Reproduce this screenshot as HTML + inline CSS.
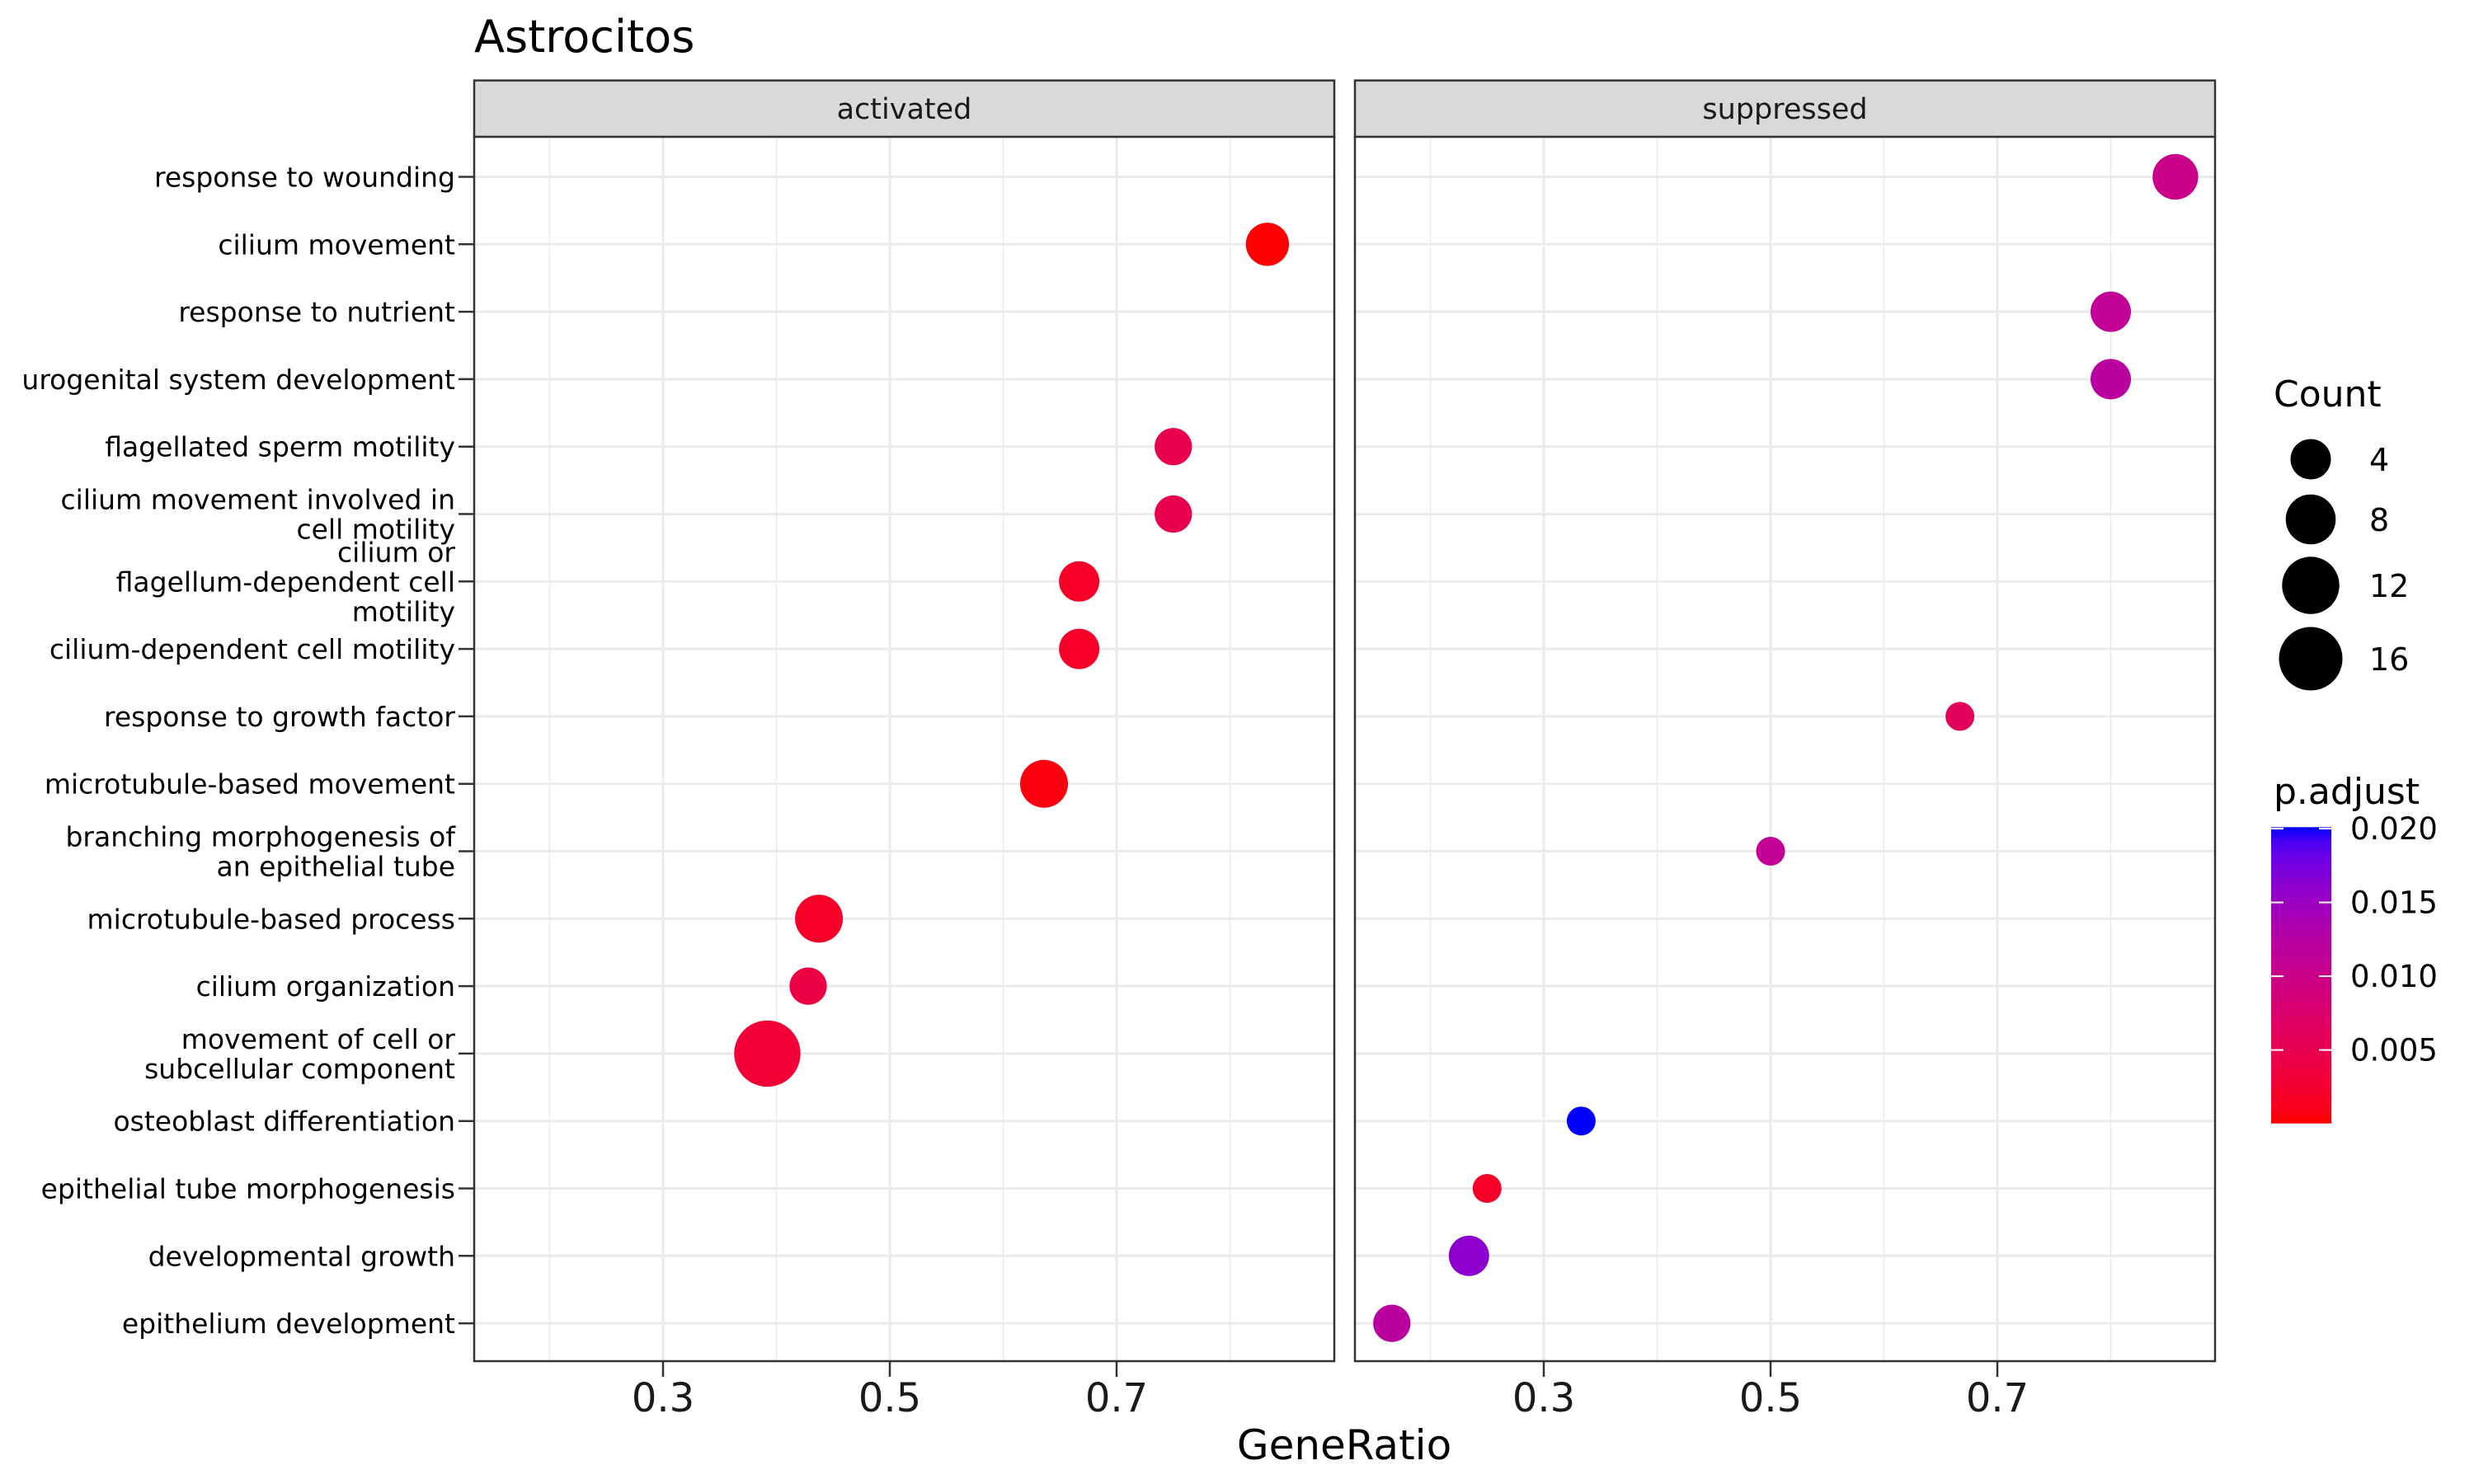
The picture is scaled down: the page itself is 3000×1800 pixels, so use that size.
<!DOCTYPE html>
<html><head><meta charset="utf-8"><style>
html,body{margin:0;padding:0;background:#fff}
svg{display:block;font-family:"DejaVu Sans","Liberation Sans",sans-serif}
</style></head><body>
<svg id="chart" width="3000" height="1800" viewBox="0 0 3000 1800" xmlns="http://www.w3.org/2000/svg">
<rect width="3000" height="1800" fill="#fff"/>
<text x="575" y="63" font-size="54" fill="#000">Astrocitos</text>
<g id="g"></g>
</svg>
<script>
const terms = ["response to wounding","cilium movement","response to nutrient","urogenital system development","flagellated sperm motility","cilium movement involved in\ncell motility","cilium or\nflagellum-dependent cell\nmotility","cilium-dependent cell motility","response to growth factor","microtubule-based movement","branching morphogenesis of\nan epithelial tube","microtubule-based process","cilium organization","movement of cell or\nsubcellular component","osteoblast differentiation","epithelial tube morphogenesis","developmental growth","epithelium development"];
const panels = ["activated","suppressed"];
const ptPanel = [0,0,0,0,0,0,0,0,0, 1,1,1,1,1,1,1,1,1];
const ptTerm  = [1,4,5,6,7,9,11,12,13, 0,2,3,8,10,14,15,16,17];
const ptRatio = [0.833,0.75,0.75,0.667,0.667,0.636,0.4375,0.428,0.392, 0.857,0.8,0.8,0.667,0.5,0.333,0.25,0.234,0.166];
const ptCount = [5,3,3,4,4,7,7,3,18, 6,4,4,1,1,1,1,4,3];
const ptPadj  = [0.00002,0.005,0.005,0.002,0.002,0.0005,0.002,0.004,0.003, 0.010,0.011,0.012,0.006,0.011,0.0201,0.002,0.016,0.012];
const xTicks = [0.3,0.5,0.7];
const xMinor = [0.2,0.4,0.6,0.8];
const sizeBreaks = [4,8,12,16];
const colBreaks = [0.005,0.010,0.015,0.020];
const colLabels = ["0.005","0.010","0.015","0.020"];

const NS="http://www.w3.org/2000/svg";
const g=document.getElementById('g');
function mk(tag,attrs,parent){const e=document.createElementNS(NS,tag);for(const k in attrs)e.setAttribute(k,attrs[k]);(parent||g).appendChild(e);return e;}
const panelX=[575,1643], panelW=1043, pTop=166, pBot=1651, stripTop=97.6;
function xs(p,v){return panelX[p]+229+(v-0.3)*1375;}
function ys(i){return 214.5+i*81.8;}
function dia(c){return 21+14*Math.sqrt(c);}
function s2l(c){c/=255;return c<=0.04045?c/12.92:Math.pow((c+0.055)/1.055,2.4);}
function l2s(c){c=c<=0.0031308?12.92*c:1.055*Math.pow(c,1/2.4)-0.055;return Math.max(0,Math.min(255,Math.round(c*255)));}
function toLab(r,gg,b){r=s2l(r);gg=s2l(gg);b=s2l(b);let X=(0.4124*r+0.3576*gg+0.1805*b)/0.95047,Y=0.2126*r+0.7152*gg+0.0722*b,Z=(0.0193*r+0.1192*gg+0.9505*b)/1.08883;const f=t=>t>0.008856?Math.cbrt(t):7.787*t+16/116;const fx=f(X),fy=f(Y),fz=f(Z);return[116*fy-16,500*(fx-fy),200*(fy-fz)];}
function fromLab(L,a,b){const fy=(L+16)/116,fx=fy+a/500,fz=fy-b/200;const fi=t=>t*t*t>0.008856?t*t*t:(t-16/116)/7.787;const X=fi(fx)*0.95047,Y=fi(fy),Z=fi(fz)*1.08883;const r=3.2406*X-1.5372*Y-0.4986*Z,gg=-0.9689*X+1.8758*Y+0.0415*Z,bb=0.0557*X-0.2040*Y+1.0570*Z;return `rgb(${l2s(r)},${l2s(gg)},${l2s(bb)})`;}
const LR=toLab(255,0,0),LB=toLab(0,0,255);
const pMin=Math.min(...ptPadj),pMax=Math.max(...ptPadj);
function col(p){const t=(p-pMin)/(pMax-pMin);return fromLab(LR[0]+(LB[0]-LR[0])*t,LR[1]+(LB[1]-LR[1])*t,LR[2]+(LB[2]-LR[2])*t);}

panels.forEach((name,p)=>{
  const x0=panelX[p];
  const strip=mk('rect',{x:x0,y:stripTop,width:panelW,height:pTop-stripTop,fill:'#D9D9D9',stroke:'#333',"stroke-width":2.5});
  
  
  const st=mk('text',{x:x0+panelW/2,y:144,"font-size":35,fill:'#1A1A1A',"text-anchor":'middle'});st.textContent=name;
  
  
  mk('rect',{x:x0,y:pTop,width:panelW,height:pBot-pTop,fill:'#fff'});
  xMinor.forEach(v=>{const l=mk('line',{x1:xs(p,v),x2:xs(p,v),y1:pTop,y2:pBot,stroke:'#EBEBEB',"stroke-width":1.5});
    
    });
  xTicks.forEach(v=>{const l=mk('line',{x1:xs(p,v),x2:xs(p,v),y1:pTop,y2:pBot,stroke:'#EBEBEB',"stroke-width":3});
    
    
    mk('line',{x1:xs(p,v),x2:xs(p,v),y1:pBot,y2:pBot+19,stroke:'#333',"stroke-width":2.5});
    const t=mk('text',{x:xs(p,v),y:1712,"font-size":48,fill:'#1A1A1A',"text-anchor":'middle'});t.textContent=v.toFixed(1);
    
    });
  terms.forEach((tm,i)=>{const l=mk('line',{x1:x0,x2:x0+panelW,y1:ys(i),y2:ys(i),stroke:'#EBEBEB',"stroke-width":3});
    
    });
});
ptTerm.forEach((ti,k)=>{
  const p=ptPanel[k];
  const c=mk('circle',{cx:xs(p,ptRatio[k]),cy:ys(ti),r:dia(ptCount[k])/2,fill:col(ptPadj[k])});
  
  
});
panels.forEach((name,p)=>{
  const b=mk('rect',{x:panelX[p],y:pTop,width:panelW,height:pBot-pTop,fill:'none',stroke:'#333',"stroke-width":2.5});
  
  
});
terms.forEach((tm,i)=>{
  mk('line',{x1:556,x2:575,y1:ys(i),y2:ys(i),stroke:'#333',"stroke-width":2.5});
  const lines=tm.split('\n');const lh=36;
  const t=mk('text',{x:552,"font-size":33,fill:'#000',"text-anchor":'end'});
  
  
  lines.forEach((ln,j)=>{const s=mk('tspan',{x:552,y:ys(i)+12+(j-(lines.length-1)/2)*lh},t);s.textContent=ln;});
});
const xt=mk('text',{x:1630,y:1770,"font-size":50,fill:'#000',"text-anchor":'middle'});xt.textContent='GeneRatio';


const lt=mk('text',{x:2757,y:493,"font-size":44,fill:'#000'});lt.textContent='Count';


const legY=[557,630,710,799];
sizeBreaks.forEach((c,k)=>{
  const ci=mk('circle',{cx:2802,cy:legY[k],r:dia(c)/2,fill:'#000'});
  
  
  const t=mk('text',{x:2873,y:legY[k]+14,"font-size":38,fill:'#000'});t.textContent=c;
  
  
});
const ct=mk('text',{x:2757,y:975,"font-size":44,fill:'#000'});ct.textContent='p.adjust';


const barTop=1003.3,barBot=1362.7,bx=2754,bw=73;
const defs=mk('defs',{});
const lg=mk('linearGradient',{id:'cg',x1:0,y1:1,x2:0,y2:0},defs);
for(let i=0;i<=20;i++){const p=pMin+(pMax-pMin)*i/20;mk('stop',{offset:i/20,"stop-color":col(p)},lg);}
const bar=mk('rect',{x:bx,y:barTop,width:bw,height:barBot-barTop,fill:'url(#cg)'});


function cy(p){return barBot-(p-pMin)/(pMax-pMin)*(barBot-barTop);}
colBreaks.forEach((v,k)=>{
  const y=cy(v);
  mk('line',{x1:bx,x2:bx+15,y1:y,y2:y,stroke:'#fff',"stroke-width":2});
  mk('line',{x1:bx+bw-15,x2:bx+bw,y1:y,y2:y,stroke:'#fff',"stroke-width":2});
  const t=mk('text',{x:2850,y:y+13,"font-size":37,fill:'#000'});t.textContent=colLabels[k];
  
  
});
</script>
</body></html>
